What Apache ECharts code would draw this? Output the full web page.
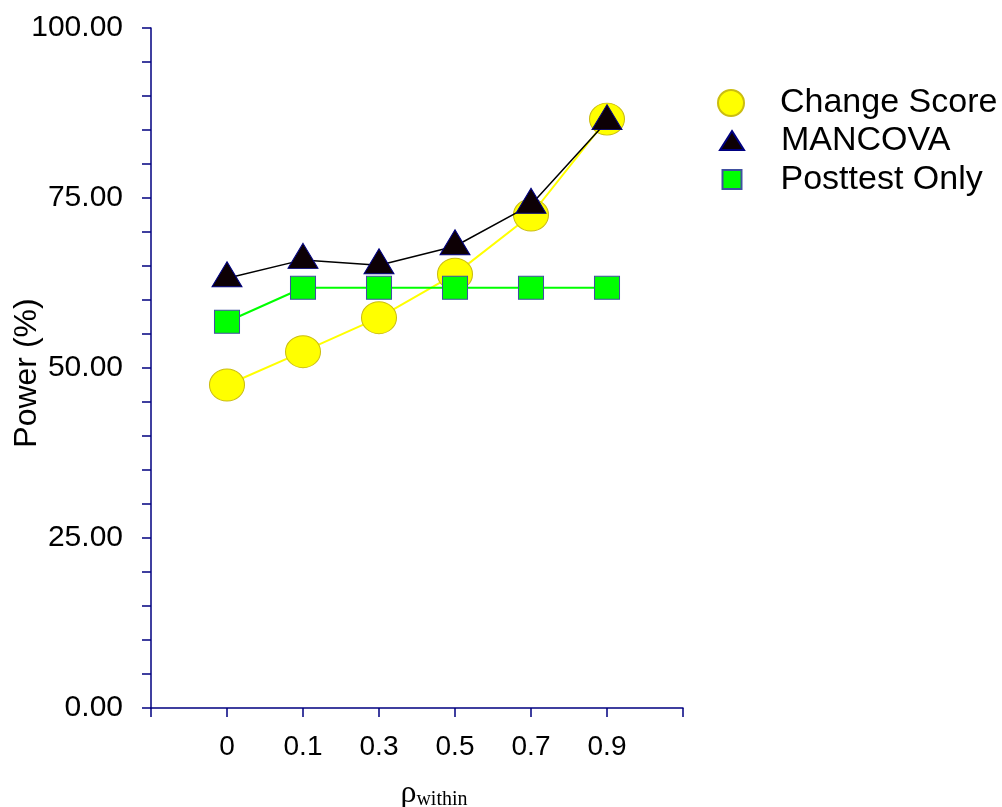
<!DOCTYPE html>
<html>
<head>
<meta charset="utf-8">
<script src="https://cdn.jsdelivr.net/npm/echarts@6/dist/echarts.min.js"></script>
<style>
html,body{margin:0;padding:0;background:#fff;}
#chart{width:1002px;height:807px;}
</style>
</head>
<body>
<div id="chart"></div>
<script>
const categories = ['0', '0.1', '0.3', '0.5', '0.7', '0.9'];
const changeScore = [47.5, 52.4, 57.4, 63.8, 72.5, 86.6];
const mancova = [63.2, 65.9, 65.1, 67.9, 74.0, 86.3];
const posttestOnly = [56.8, 61.8, 61.8, 61.8, 61.8, 61.8];
const seriesNames = ['Change Score', 'MANCOVA', 'Posttest Only'];
const legendIcons = ['circle', 'triangle', 'rect'];

const toPoints = vals => vals.map((v, i) => [i, v]);
const axisColor = '#000080';
const sans = 'Liberation Sans, Arial, sans-serif';

const chart = echarts.init(document.getElementById('chart'), null, {renderer: 'canvas'});

function legendFor(idx, w, h, top, padLeft) {
  return {
    data: [{name: seriesNames[idx], icon: legendIcons[idx]}],
    orient: 'vertical',
    left: 731 - w / 2,
    top: top,
    itemWidth: w,
    itemHeight: h,
    padding: 0,
    selectedMode: false,
    textStyle: {fontFamily: sans, fontSize: 34, color: '#000', padding: [0, 0, 0, padLeft]}
  };
}

chart.setOption({
  animation: false,
  backgroundColor: '#fff',
  grid: {left: 151, right: 319, top: 28, bottom: 99, outerBoundsMode: 'none', containLabel: false},
  legend: [
    legendFor(0, 28, 26, 86, 30),
    legendFor(1, 24, 19, 123.5, 32),
    legendFor(2, 19, 19, 162.5, 34)
  ],
  xAxis: {
    type: 'value',
    min: -1, max: 6, interval: 1,
    splitLine: {show: false},
    axisLine: {onZero: false, lineStyle: {color: axisColor, width: 1.5}},
    axisTick: {length: 9, lineStyle: {color: axisColor, width: 1.5}},
    axisLabel: {
      fontFamily: sans, fontSize: 28, color: '#000', margin: 25,
      formatter: v => (categories[v] !== undefined ? categories[v] : '')
    },
    name: '{a|ρ}{b|within}',
    nameLocation: 'middle',
    nameGap: 70,
    nameMoveOverlap: false,
    nameTextStyle: {
      padding: [0, 0, 0, 34],
      rich: {
        a: {fontFamily: 'Liberation Serif, Times New Roman, serif', fontSize: 32, color: '#000'},
        b: {fontFamily: 'Liberation Serif, Times New Roman, serif', fontSize: 20, color: '#000', padding: [12, 0, 0, 0]}
      }
    }
  },
  yAxis: {
    type: 'value',
    min: 0, max: 100, interval: 5,
    splitLine: {show: false},
    axisLine: {onZero: false, lineStyle: {color: axisColor, width: 1.5}},
    axisTick: {length: 9, lineStyle: {color: axisColor, width: 1.5}},
    axisLabel: {
      fontFamily: sans, fontSize: 30, color: '#000', margin: 28,
      formatter: v => (v % 25 === 0 ? v.toFixed(2) : '')
    },
    name: 'Power (%)',
    nameLocation: 'middle',
    nameGap: 108,
    nameMoveOverlap: false,
    nameTextStyle: {fontFamily: sans, fontSize: 32, color: '#000', padding: [0, 10, 0, 0]}
  },
  series: [
    {
      name: seriesNames[0], type: 'line', data: toPoints(changeScore),
      symbol: 'circle', symbolSize: [35, 32],
      itemStyle: {color: '#ffff00', borderColor: '#cbbd10', borderWidth: 1},
      lineStyle: {color: '#ffff00', width: 2}, z: 2
    },
    {
      name: seriesNames[1], type: 'line', data: toPoints(mancova),
      symbol: 'triangle', symbolSize: [30, 25], symbolOffset: [0, -4],
      itemStyle: {color: '#0d0005', borderColor: '#000080', borderWidth: 1},
      lineStyle: {color: '#000000', width: 1.5}, z: 3
    },
    {
      name: seriesNames[2], type: 'line', data: toPoints(posttestOnly),
      symbol: 'rect', symbolSize: [25, 23],
      itemStyle: {color: '#00ff00', borderColor: '#4050a0', borderWidth: 1},
      lineStyle: {color: '#00ff00', width: 2}, z: 4
    }
  ]
});
</script>
</body>
</html>
